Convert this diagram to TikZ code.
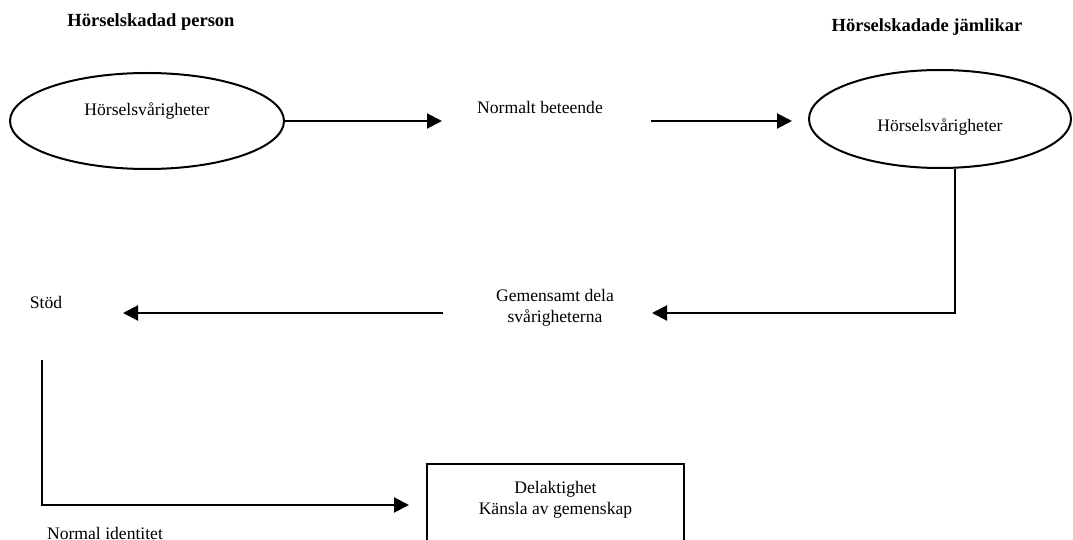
\documentclass[tikz,border=0pt]{standalone}
\usepackage{fontspec}
\setmainfont{Liberation Serif}
\usetikzlibrary{
    arrows.meta,
    positioning,
    shapes.geometric
}
\tikzset{
    flowarrow/.style={-{Triangle[length=7.5pt, width=7.5pt]}, line width=1pt},
    state/.style={ellipse, draw, line width=1pt, inner sep=0pt},
    result/.style={rectangle, draw, line width=1pt, inner sep=0pt},
    note/.style={font=\fontsize{8.8}{10.6}\selectfont, align=center, inner sep=0pt},
    heading/.style={font=\fontsize{9.25}{11}\selectfont\bfseries, inner sep=0pt}
}

\begin{document}
\begin{tikzpicture}[x=0.5pt, y=-0.5pt]
    \useasboundingbox (0,0) rectangle (1073,540);
    \clip (0,0) rectangle (1073,540);
    \node[heading] (person) at (151,22) {Hörselskadad person};
    \node[heading] (peers) at (927,27) {Hörselskadade jämlikar};
    \node[state, minimum width=137pt, minimum height=48pt,
        label={[note, yshift=5pt]center:Hörselsvårigheter}] (hardL) at (147,121) {};
    \node[state, minimum width=131pt, minimum height=49pt,
        label={[note, yshift=-4pt]center:Hörselsvårigheter}] (hardR) at (940,119) {};
    \node[note] (behav) at (540,107) {Normalt beteende};
    \node[note] (share) at (555,308) {Gemensamt dela\\svårigheterna};
    \node[note] (support) at (46,302) {Stöd};
    \node[note] (ident) at (105,533) {Normal identitet};
    \node[result, minimum width=128.5pt, minimum height=50pt, anchor=north,
        label={[note, yshift=7pt]center:{Delaktighet\\Känsla av gemenskap}}] (part) at (555.5,463) {};
    % top row
    \coordinate (behavin) at (442,121);
    \coordinate (behavout) at (651,121);
    \draw[flowarrow] (hardL.east) -- (behavin);
    \draw[flowarrow, shorten >=8pt] (behavout) -- (behavout -| hardR.west);
    % back to the left
    \coordinate (sharein) at (652,313);
    \coordinate (shareout) at (443,313);
    \coordinate (supportin) at (123,313);
    \draw[flowarrow] ([xshift=7.5pt]hardR.south) |- (sharein);
    \draw[flowarrow] (shareout) -- (supportin);
    % down to the box
    \coordinate (supportout) at (42,360);
    \coordinate (partin) at (409,505);
    \draw[flowarrow] (supportout) |- (partin);
\end{tikzpicture}
\end{document}
